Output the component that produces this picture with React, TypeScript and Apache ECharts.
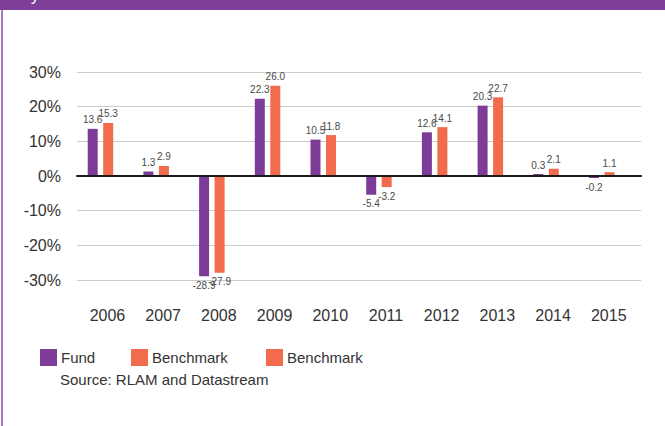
import React, { useEffect, useRef } from "react";
import * as echarts from "echarts";

const years = ["2006", "2007", "2008", "2009", "2010", "2011", "2012", "2013", "2014", "2015"];
const fund = [13.6, 1.3, -28.9, 22.3, 10.5, -5.4, 12.6, 20.3, 0.3, -0.2];
const benchmark = [15.3, 2.9, -27.9, 26.0, 11.8, -3.2, 14.1, 22.7, 2.1, 1.1];
const legendNames = ["Fund", "Benchmark", "Benchmark"];
const sourceText = "Source: RLAM and Datastream";

const PURPLE = "#7D3C98";
const ORANGE = "#F26B4D";
const FONT = "'Liberation Sans', Arial, Helvetica, sans-serif";

function toData(arr: number[]) {
  return arr.map((v) => ({
    value: v,
    label: { position: v < 0 ? "bottom" : "top" },
  }));
}

export default function App() {
  const ref = useRef<HTMLDivElement>(null);
  useEffect(() => {
    if (!ref.current) return;
    const chart = echarts.init(ref.current, undefined, { renderer: "svg" });
    const labelStyle = {
      show: true,
      fontSize: 10,
      color: "#4a4a4a",
      fontFamily: FONT,
      distance: 4,
      formatter: (p: any) => Number(p.value).toFixed(1),
    };
    const legendX = [40, 131, 266];
    const legendColors = [PURPLE, ORANGE, ORANGE];
    const legendGraphics: any[] = [];
    legendNames.forEach((n, i) => {
      legendGraphics.push({
        type: "rect",
        shape: { x: legendX[i], y: 349, width: 17, height: 17 },
        style: { fill: legendColors[i] },
      });
      legendGraphics.push({
        type: "text",
        x: legendX[i] + 21,
        y: 357.5,
        style: { text: n, fill: "#333", font: `15px ${FONT}`, verticalAlign: "middle" },
      });
    });
    chart.setOption({
      animation: false,
      backgroundColor: "#fff",
      textStyle: { fontFamily: FONT },
      grid: [
        { left: 77, width: 564, top: 72, height: 208 },
        { left: 72.6, width: 557, top: 72, height: 208 },
      ],
      xAxis: [
        {
          type: "category",
          gridIndex: 0,
          data: years,
          z: 5,
          axisLine: { show: true, lineStyle: { color: "#1a1a1a", width: 2 } },
          axisTick: { show: false },
          axisLabel: { show: false },
          splitLine: { show: false },
        },
        {
          type: "category",
          gridIndex: 1,
          data: years,
          axisLine: { show: false },
          axisTick: { show: false },
          axisLabel: {
            show: true,
            fontSize: 16,
            color: "#333",
            fontFamily: FONT,
            margin: 27,
            padding: [0, 0, 0, 14],
          },
        },
      ],
      yAxis: [
        {
          type: "value",
          gridIndex: 0,
          min: -30,
          max: 30,
          interval: 10,
          axisLine: { show: false },
          axisTick: { show: false },
          axisLabel: {
            fontSize: 16,
            color: "#333",
            fontFamily: FONT,
            margin: 16,
            formatter: "{value}%",
          },
          splitLine: { lineStyle: { color: "#cccccc", width: 1 } },
        },
        {
          type: "value",
          gridIndex: 1,
          min: -30,
          max: 30,
          interval: 10,
          show: false,
          splitLine: { show: false },
        },
      ],
      series: [
        {
          name: "Fund",
          type: "bar",
          xAxisIndex: 1,
          yAxisIndex: 1,
          data: toData(fund),
          barWidth: 10,
          barGap: "55%",
          barMinHeight: 2,
          itemStyle: { color: PURPLE },
          label: labelStyle,
        },
        {
          name: "Benchmark",
          type: "bar",
          xAxisIndex: 1,
          yAxisIndex: 1,
          data: toData(benchmark),
          barWidth: 10,
          barGap: "55%",
          barMinHeight: 2,
          itemStyle: { color: ORANGE },
          label: labelStyle,
        },
      ],
      graphic: [
        {
          type: "rect",
          shape: { x: 0, y: 0, width: 665, height: 10 },
          style: { fill: "#7E3F98" },
          z: 10,
        },
        {
          type: "text",
          x: 31,
          y: -13,
          z: 11,
          style: { text: "y", fill: "#fff", font: `16px ${FONT}` },
        },
        {
          type: "rect",
          shape: { x: 1, y: 10, width: 2, height: 416 },
          style: { fill: "#A27BBE" },
        },
        ...legendGraphics,
        {
          type: "text",
          x: 60,
          y: 379.5,
          style: { text: sourceText, fill: "#333", font: `15px ${FONT}`, verticalAlign: "middle" },
        },
      ],
    });
    return () => chart.dispose();
  }, []);
  return (
    <div
      ref={ref}
      style={{ position: "absolute", left: 0, top: 0, width: 665, height: 426, background: "#fff" }}
    />
  );
}
